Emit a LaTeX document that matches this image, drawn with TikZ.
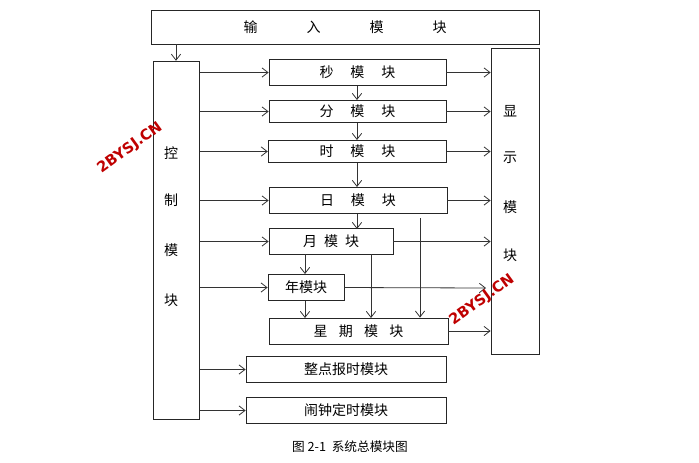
\documentclass[tikz,border=0pt]{standalone}
\usepackage{fontspec}
\setmainfont{Noto Sans CJK SC}
\newfontfamily\markfont{DejaVu Sans}
\usetikzlibrary{positioning, arrows.meta}

\begin{document}
\begin{tikzpicture}[x=0.75pt,y=-0.75pt,
    box/.style={draw=black!85, line width=0.6pt, inner sep=0pt, font=\fontsize{10.5}{12}\selectfont},
    link/.style={-{Straight Barb[length=4.5pt,width=7pt]}, line width=0.6pt, draw=black!80}]
     \useasboundingbox (0,0) rectangle (699,462);
     % big boxes
     \node[box, minimum width=291pt, minimum height=25.5pt] (input) at (345,27) {输\hspace{3.5em}入\hspace{3.5em}模\hspace{3.5em}块};
     \node[box, minimum width=35pt, minimum height=269pt] (ctrl) at (176.5,240.5) {};
     \node[box, minimum width=36pt, minimum height=229.5pt] (disp) at (515,201) {};
     \foreach \t/\y in {控/153,制/200,模/250,块/300}
        \node[font=\fontsize{10.5}{12}\selectfont] at (171,\y) {\t};
     \foreach \t/\y in {显/111,示/158,模/207,块/255}
        \node[font=\fontsize{10.5}{12}\selectfont] at (510,\y) {\t};
     % modules
     \node[box, minimum width=132.75pt, minimum height=20pt] (sec) at (357.5,72.5) {秒\hspace{1.2em}模\hspace{1.2em}块};
     \node[box, minimum width=132.75pt, minimum height=17pt] (min) at (357.5,111.5) {分\hspace{1.2em}模\hspace{1.2em}块};
     \node[box, minimum width=134pt, minimum height=17pt] (hour) at (357.5,151.5) {时\hspace{1.2em}模\hspace{1.2em}块};
     \node[box, minimum width=133.5pt, minimum height=20pt] (day) at (358,200.5) {日\hspace{1.2em}模\hspace{1.2em}块};
     \node[box, minimum width=93pt, minimum height=19pt] (month) at (331,241.5) {月\hspace{0.5em}模\hspace{0.5em}块};
     \node[box, minimum width=57pt, minimum height=20pt] (year) at (306,287.5) {年模块};
     \node[box, minimum width=134.25pt, minimum height=19.5pt] (week) at (358.5,331) {星\hspace{0.8em}期\hspace{0.8em}模\hspace{0.8em}块};
     \node[box, minimum width=150pt, minimum height=19pt] (chime) at (346,369.5) {整点报时模块};
     \node[box, minimum width=150pt, minimum height=19pt] (alarm) at (346,410.5) {闹钟定时模块};
     % connectors
     \draw[link] (176,44) -- (ctrl.north -| 176,0);
     \foreach \m in {sec,min,hour,day,month,year,chime,alarm}
        \draw[link] (ctrl.east |- \m) -- (\m.west);
     \foreach \m in {sec,min,hour,day,month,week}
        \draw[link] (\m.east) -- (disp.west |- \m);
     \draw[link] (year.east) -- (486,288);
     \draw[link] (357,86) -- (357,100);
     \draw[link] (357,123) -- (357,140);
     \draw[link] (357,163) -- (357,187);
     \draw[link] (357,214) -- (357,229);
     \draw[link] (305,254) -- (305,274);
     \draw[link] (305,301) -- (305,318);
     \draw[link] (371,254) -- (371,318);
     \coordinate (tap) at (420,218);
     \draw[link] (tap) -- (week.north -| tap);
     % watermark and caption
     \node[red!75!black, rotate=36, font=\markfont\bfseries\fontsize{11}{12}\selectfont] at (130,148) {2BYSJ.CN};
     \node[red!75!black, rotate=36, font=\markfont\bfseries\fontsize{11}{12}\selectfont] at (482,300) {2BYSJ.CN};
     \node[font=\fontsize{9.5}{12}\selectfont] (cap) at (350,447) {图 2-1\ \ 系统总模块图};
\end{tikzpicture}
\end{document}
